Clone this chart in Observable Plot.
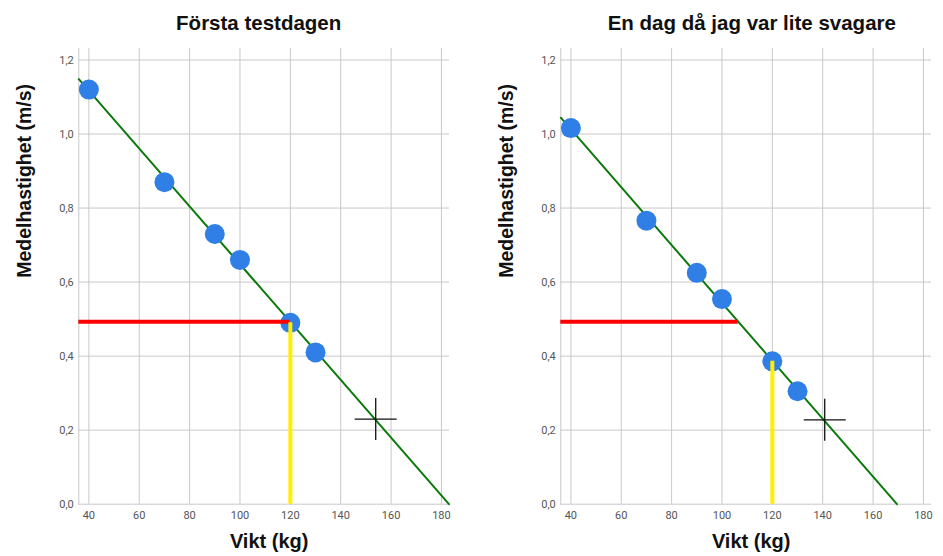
<!DOCTYPE html>
<html>
<head>
<meta charset="utf-8">
<script src="https://cdn.jsdelivr.net/npm/d3@7"></script>
<script src="https://cdn.jsdelivr.net/npm/@observablehq/plot@0.6"></script>
<style>
  html, body { margin: 0; padding: 0; background: #fff; }
  #wrap { position: relative; width: 943px; height: 556px; overflow: hidden; }
  .panel { position: absolute; top: 0; }
  .title { position: absolute; top: 10.7px; font-family: "Liberation Sans", Arial, sans-serif; font-weight: bold; font-size: 20.5px; line-height: normal; color: #111; white-space: nowrap; transform: translateX(-50%); }
  .panel svg { position: absolute; top: 40px; left: 0; }
</style>
</head>
<body>
<div id="wrap"></div>
<script>
// ---- data ----
const titles = ["Första testdagen", "En dag då jag var lite svagare"];
const weights = [40, 70, 90, 100, 120, 130];
const velocityDay1 = [1.12, 0.87, 0.73, 0.66, 0.49, 0.41];
const velocityDay2 = [1.016, 0.766, 0.625, 0.554, 0.386, 0.305];
const targetVelocity = 0.493;    // red line
const testWeight = 120;          // yellow line
const crossWeights = [153.9, 140.8];
const crossVelocities = [0.23, 0.228];
const xTicks = [40, 60, 80, 100, 120, 140, 160, 180];
const yTicks = [0, 0.2, 0.4, 0.6, 0.8, 1.0, 1.2];
const xLabel = "Vikt (kg)";
const yLabel = "Medelhastighet (m/s)";

const xDomain = [36, 183.2];
const yDomain = [0, 1.231];

function fit(xs, ys) {
  const mx = d3.mean(xs), my = d3.mean(ys);
  let sxy = 0, sxx = 0;
  xs.forEach((x, i) => { sxy += (x - mx) * (ys[i] - my); sxx += (x - mx) ** 2; });
  const b = sxy / sxx;
  return {b, a: my - b * mx};
}

const plusSymbol = {
  draw(context, size) {
    const r = Math.sqrt(size / Math.PI);
    context.moveTo(-r, 0); context.lineTo(r, 0);
    context.moveTo(0, -r); context.lineTo(0, r);
  }
};

function makePanel(idx, vel, left, width, mLeft, mRight, titleCenter) {
  const data = weights.map((w, i) => ({w, v: vel[i]}));
  const {a, b} = fit(weights, vel);
  const xEnd = Math.min(xDomain[1], -a / b);
  const lineData = [xDomain[0], xEnd].map(x => ({w: x, v: a + b * x}));
  const redEnd = (targetVelocity - a) / b;
  const testV = vel[weights.indexOf(testWeight)];
  const fmt = d => d3.format(".1f")(d).replace(".", ",");

  const svg = Plot.plot({
    width, height: 516,
    marginTop: 8, marginBottom: 52.3, marginLeft: mLeft, marginRight: mRight,
    style: {fontFamily: "Roboto, sans-serif", fontSize: "11px", color: "#555", background: "transparent"},
    x: {domain: xDomain},
    y: {domain: yDomain},
    marks: [
      Plot.gridX(xTicks, {stroke: "#c8c8c8", strokeOpacity: 1, strokeWidth: 1}),
      Plot.gridY(yTicks, {stroke: "#c8c8c8", strokeOpacity: 1, strokeWidth: 1}),
      Plot.frame({anchor: "left", stroke: "#c8c8c8"}),
      Plot.axisX(xTicks, {tickSize: 0, tickPadding: 7, label: null, fill: "#555"}),
      Plot.axisY(yTicks, {tickSize: 0, tickPadding: 5, label: null, tickFormat: fmt, fill: "#555"}),
      Plot.line(lineData, {x: "w", y: "v", stroke: "#0b7a0b", strokeWidth: 2}),
      Plot.dot(data, {x: "w", y: "v", r: 10, fill: "#2f7fe6", stroke: "none"}),
      Plot.ruleY([targetVelocity], {x1: xDomain[0], x2: redEnd, stroke: "#ff0000", strokeWidth: 4}),
      Plot.ruleX([testWeight], {y1: 0, y2: testV, stroke: "#ffee00", strokeWidth: 4}),
      Plot.dot([{w: crossWeights[idx], v: crossVelocities[idx]}], {x: "w", y: "v", symbol: plusSymbol, r: 21, stroke: "#111", strokeWidth: 1.3, fill: "none"}),
      Plot.text([xLabel], {frameAnchor: "bottom", lineAnchor: "bottom", dy: 43.3, dx: 5, fontSize: 20, fontWeight: "bold", fontFamily: "Liberation Sans, Arial, sans-serif", fill: "#111"}),
      Plot.text([yLabel], {frameAnchor: "left", rotate: -90, dx: -53.6, dy: 1.5, fontSize: 19.5, fontWeight: "bold", fontFamily: "Liberation Sans, Arial, sans-serif", fill: "#111"})
    ]
  });

  const panel = document.createElement("div");
  panel.className = "panel";
  panel.style.left = left + "px";
  panel.style.width = width + "px";
  panel.style.height = "556px";
  const t = document.createElement("div");
  t.className = "title";
  t.textContent = titles[idx];
  t.style.left = (titleCenter - left) + "px";
  panel.appendChild(t);
  panel.appendChild(svg);
  document.getElementById("wrap").appendChild(panel);
}

makePanel(0, velocityDay1, 0, 471, 78.3, 22, 258.7);
makePanel(1, velocityDay2, 471, 472, 89.3, 12, 751.8);
</script>
</body>
</html>
